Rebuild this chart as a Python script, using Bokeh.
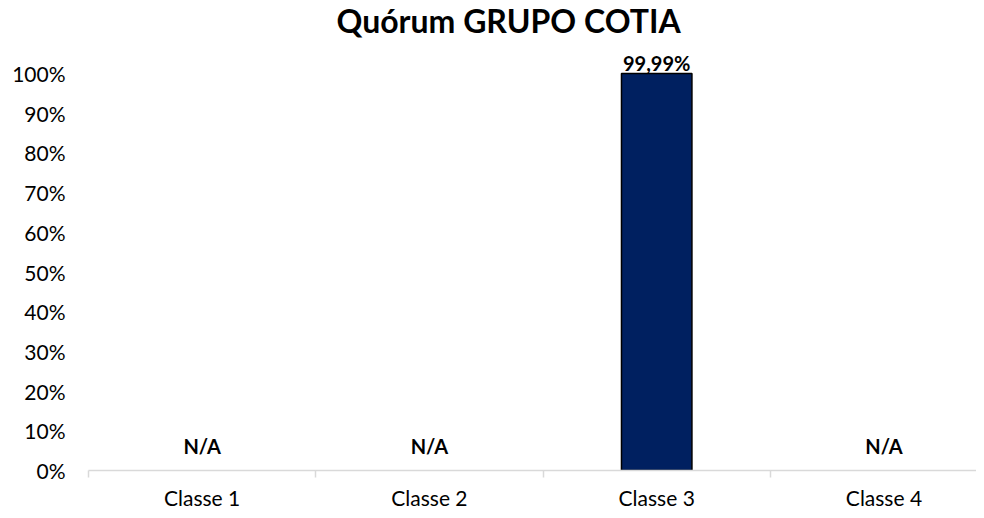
from bokeh.plotting import figure
from bokeh.models import Range1d, FixedTicker, ColumnDataSource, Label
from bokeh.embed import file_html
from bokeh.resources import INLINE
from bokeh.core.properties import value

chart_title = "Quórum GRUPO COTIA"
categories = ["Classe 1", "Classe 2", "Classe 3", "Classe 4"]
quorum_pct = [None, None, 99.99, None]   # None = N/A
y_ticks = [0, 10, 20, 30, 40, 50, 60, 70, 80, 90, 100]

FONT = value("Lato")

# derived positions (category centres / boundaries in axis units)
centers = [i + 0.5 for i in range(len(categories))]
bounds = list(range(len(categories) + 1))

bar_src = ColumnDataSource(dict(
    x=[c for c, v in zip(centers, quorum_pct) if v is not None],
    top=[v for v in quorum_pct if v is not None],
))

labels = [("%.2f" % v).replace(".", ",") + "%" if v is not None else "N/A" for v in quorum_pct]
lab_src = ColumnDataSource(dict(
    x=centers,
    y=[v if v is not None else 0 for v in quorum_pct],
    text=labels,
    yoff=[-11 if v is not None else -25 for v in quorum_pct],
))

p = figure(width=976, height=512, output_backend="svg", toolbar_location=None,
           x_range=Range1d(0, 3.907), y_range=Range1d(0, 118.4),
           min_border_left=88, min_border_right=0, min_border_top=0, min_border_bottom=40)

p.add_layout(Label(x=248, y=450, x_units="screen", y_units="screen", text=chart_title,
                   text_font="Lato", text_font_style="bold", text_font_size="32px",
                   text_align="left", text_baseline="alphabetic", text_color="#000000"))

p.vbar(x="x", top="top", width=0.31, bottom=0, source=bar_src,
       fill_color="#002060", line_color="#000000", line_width=1.5)

p.text(x="x", y="y", text="text", source=lab_src, y_offset="yoff",
       text_align="center", text_baseline="alphabetic",
       text_font=FONT, text_font_style="bold", text_font_size="20px", text_color="#000000")

p.xgrid.visible = False
p.ygrid.visible = False
p.outline_line_color = None

xa = p.xaxis[0]
xa.ticker = FixedTicker(ticks=centers, minor_ticks=bounds)
xa.major_label_overrides = {c: lab for c, lab in zip(centers, categories)}
xa.major_tick_out = 0
xa.major_tick_in = 0
xa.minor_tick_in = 0
xa.minor_tick_out = 7
xa.minor_tick_line_color = "#d9d9d9"
xa.minor_tick_line_width = 1.5
xa.axis_line_color = "#d9d9d9"
xa.axis_line_width = 1.5
xa.axis_label_standoff = 0
xa.major_label_text_font = "Lato"
xa.major_label_text_font_size = "21px"
xa.major_label_text_color = "#000000"
xa.major_label_standoff = 7

ya = p.yaxis[0]
ya.ticker = FixedTicker(ticks=y_ticks, minor_ticks=[])
ya.major_label_overrides = {t: "%d%%" % t for t in y_ticks}
ya.axis_line_color = None
ya.major_tick_line_color = None
ya.minor_tick_line_color = None
ya.axis_label_standoff = 0
ya.major_label_text_font = "Lato"
ya.major_label_text_font_size = "21px"
ya.major_label_text_color = "#000000"
ya.major_label_standoff = 17

open("out.html", "w").write(file_html(p, INLINE))
